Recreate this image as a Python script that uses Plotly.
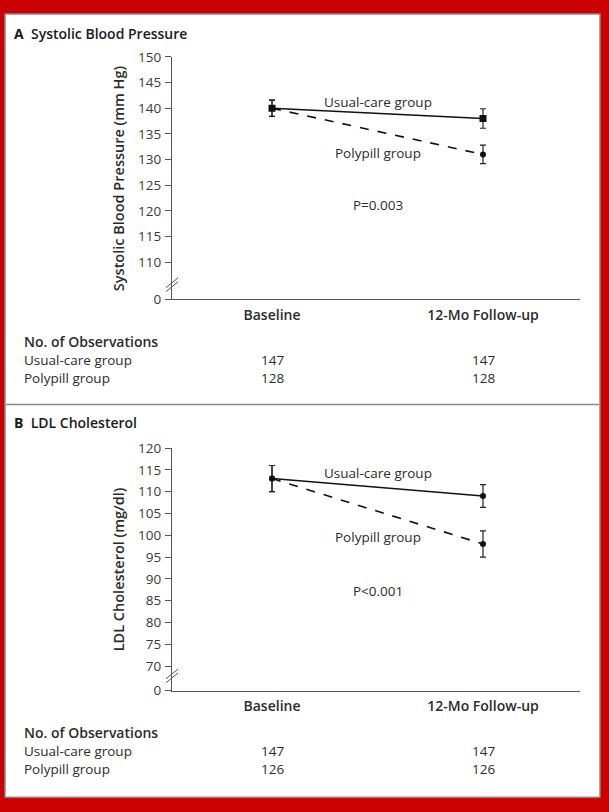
import plotly.graph_objects as go

W, H = 609, 812
FONT = "Open Sans"
TXT = "#2b2b2b"

categories = ["Baseline", "12-Mo Follow-up"]

sbp_usual = [140, 138]
sbp_usual_err = [1.6, 1.9]
sbp_poly = [140, 131]
sbp_poly_err = [1.6, 1.8]

ldl_usual = [113, 109]
ldl_usual_err = [3.0, 2.6]
ldl_poly = [113, 98]
ldl_poly_err = [3.0, 3.0]

n_sbp_usual = [147, 147]
n_sbp_poly = [128, 128]
n_ldl_usual = [147, 147]
n_ldl_poly = [126, 126]

sbp_ticks = [110, 115, 120, 125, 130, 135, 140, 145, 150]
ldl_ticks = [70, 75, 80, 85, 90, 95, 100, 105, 110, 115, 120]

# axis-break display positions for the "0" tick
SBP_ZERO = 110 - 38 / 5.25
LDL_ZERO = 70 - 25 / 4.46


def px(x):
    return x / W


def py(y):
    return 1 - y / H


fig = go.Figure()

def add_panel(usual, uerr, poly, perr, yaxis, usual_symbol):
    xa = "x" if yaxis == "y" else "x2"
    fig.add_trace(go.Scatter(
        x=categories, y=usual, mode="lines+markers", yaxis=yaxis, xaxis=xa,
        line=dict(color="#111111", width=1.6),
        marker=dict(symbol=usual_symbol, size=7 if usual_symbol == "square" else 6, color="#111111"),
        error_y=dict(type="data", array=uerr, color="#222222", thickness=1.2, width=3),
        showlegend=False, hoverinfo="skip"))
    fig.add_trace(go.Scatter(
        x=categories, y=poly, mode="lines+markers", yaxis=yaxis, xaxis=xa,
        line=dict(color="#111111", width=1.6, dash="dash"),
        marker=dict(symbol="circle", size=6, color="#111111"),
        error_y=dict(type="data", array=perr, color="#222222", thickness=1.2, width=3),
        showlegend=False, hoverinfo="skip"))

add_panel(sbp_usual, sbp_usual_err, sbp_poly, sbp_poly_err, "y", "square")
add_panel(ldl_usual, ldl_usual_err, ldl_poly, ldl_poly_err, "y2", "circle")

xr = [-100 / 211, 1 + 97 / 211]
xcommon = dict(
    type="category", range=xr, showline=True, linecolor="#555555", linewidth=1.2,
    ticks="", showgrid=False, zeroline=False,
    tickvals=categories, ticktext=categories,
    tickfont=dict(family=FONT, size=14, color=TXT, weight=600), ticklabelstandoff=3,
)
ycommon = dict(
    showline=True, linecolor="#555555", linewidth=1.2, ticks="outside", ticklen=6,
    tickcolor="#555555", tickwidth=1, showgrid=False, zeroline=False,
    tickfont=dict(family=FONT, size=13.5, color="#3a3a3a"), ticklabelstandoff=1,
)

fig.update_layout(
    width=W, height=H, margin=dict(l=0, r=0, t=0, b=0),
    paper_bgcolor="#cc0000", plot_bgcolor="rgba(0,0,0,0)",
    xaxis=dict(domain=[px(172), px(580)], anchor="y", **xcommon),
    xaxis2=dict(domain=[px(172), px(580)], anchor="y2", **xcommon),
    yaxis=dict(domain=[py(297), py(49)], anchor="x", range=[SBP_ZERO, 150],
               tickvals=[SBP_ZERO] + sbp_ticks, ticktext=["0"] + [str(t) for t in sbp_ticks], **ycommon),
    yaxis2=dict(domain=[py(697), py(449)], anchor="x2", range=[LDL_ZERO, 120],
                tickvals=[LDL_ZERO] + ldl_ticks, ticktext=["0"] + [str(t) for t in ldl_ticks], **ycommon),
)

shapes = [
    dict(type="rect", xref="paper", yref="paper", x0=px(5), x1=px(600), y0=py(806), y1=py(5),
         fillcolor="white", line=dict(color="#8a8a8a", width=1.5), layer="below"),
    dict(type="line", xref="paper", yref="paper", x0=px(6), x1=px(599), y0=py(404.5), y1=py(404.5),
         line=dict(color="#8a8a8a", width=1.5)),
]
# axis break marks
for yb in (281, 681):
    for dy in (0, 4):
        shapes.append(dict(type="line", xref="paper", yref="paper",
                           x0=px(166), y0=py(yb + 4 + dy), x1=px(178), y1=py(yb - 6 + dy),
                           line=dict(color="#555555", width=1)))
fig.update_layout(shapes=shapes)

ann = []

def txt(x, y, s, xref="paper", yref="paper", size=13, xanchor="center", angle=0, weight=400, color=TXT):
    ann.append(dict(x=x, y=y, xref=xref, yref=yref, text=s, showarrow=False,
                    xanchor=xanchor, yanchor="middle", textangle=angle, borderpad=0,
                    font=dict(family=FONT, size=size, color=color, weight=weight)))

# titles
txt(px(13), py(25), "<b>A</b>  Systolic Blood Pressure", xanchor="left", size=14, weight=600, color="#1a1a1a")
txt(px(13), py(423), "<b>B</b>  LDL Cholesterol", xanchor="left", size=14, weight=600, color="#1a1a1a")
# y axis titles
txt(px(118), py(173), "Systolic Blood Pressure (mm Hg)", size=14.5, angle=-90, weight=600)
txt(px(118), py(573), "LDL Cholesterol (mg/dl)", size=14.5, angle=-90, weight=600)

# in-plot labels panel A
txt(0.5, 141.2, "Usual-care group", xref="x", yref="y", size=13.5)
txt(0.5, 131.3, "Polypill group", xref="x", yref="y", size=13.5)
txt(0.5, 121.2, "P=0.003", xref="x", yref="y", size=13.5)
# panel B
txt(0.5, 114.2, "Usual-care group", xref="x2", yref="y2", size=13.5)
txt(0.5, 99.6, "Polypill group", xref="x2", yref="y2", size=13.5)
txt(0.5, 87.3, "P<0.001", xref="x2", yref="y2", size=13.5)

# observation tables
def table(y0, nu, npoly):
    txt(px(23), py(y0), "No. of Observations", xanchor="left", size=14, weight=600)
    txt(px(23), py(y0 + 19), "Usual-care group", xanchor="left", size=13.5)
    txt(px(23), py(y0 + 37), "Polypill group", xanchor="left", size=13.5)
    for i, c in enumerate(categories):
        xp = px(272 + 211 * i)
        txt(xp, py(y0 + 19), str(nu[i]), size=13.5)
        txt(xp, py(y0 + 37), str(npoly[i]), size=13.5)

table(340, n_sbp_usual, n_sbp_poly)
table(740, n_ldl_usual, n_ldl_poly)

fig.update_layout(annotations=ann)
fig.write_html("out.html", config={"displayModeBar": False},
               post_script="document.body.style.margin='0';document.body.style.overflow='hidden';")
